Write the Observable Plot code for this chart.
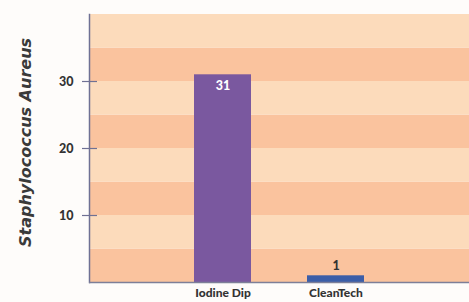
<!DOCTYPE html>
<html>
<head>
<meta charset="utf-8">
<script src="https://cdn.jsdelivr.net/npm/d3@7"></script>
<script src="https://cdn.jsdelivr.net/npm/@observablehq/plot@0.6"></script>
<style>
  html, body { margin: 0; padding: 0; background: #fefcfa; }
  #chart svg { display: block; }
</style>
</head>
<body>
<div id="chart"></div>
<script>
const categories = ["Iodine Dip", "CleanTech"];
const values = [31, 1];
const yTicks = [10, 20, 30];
const stripeStarts = [0, 5, 10, 15, 20, 25, 30, 35];
const yLabel = "Staphylococcus Aureus";

const barColors = ["#7a589f", "#3b5ea8"];
const stripeColors = ["#fac39e", "#fcdbbb"];

const data = categories.map((c, i) => ({category: c, value: values[i], color: barColors[i]}));
const stripes = stripeStarts.map((s, i) => ({y1: s, y2: s + 5, fill: stripeColors[i % 2]}));

const FONT = "Lato, 'Open Sans', sans-serif";

const chart = Plot.plot({
  width: 469,
  height: 302,
  marginLeft: 89,
  marginRight: 0,
  marginTop: 14,
  marginBottom: 20,
  style: {fontFamily: FONT, background: "#fefcfa"},
  x: {domain: categories, range: [136.5, 420], padding: 0.5, label: null},
  y: {domain: [0, 40], label: null},
  marks: [
    Plot.rectY(stripes, {y1: "y1", y2: "y2", fill: "fill"}),
    Plot.barY(data, {x: "category", y: "value", fill: "color"}),
    Plot.frame({anchor: "left", stroke: "#6f7194", strokeWidth: 1.5}),
    Plot.ruleY([0], {stroke: "#7d7f98", strokeWidth: 1.5}),
    Plot.axisY(yTicks, {
      tickSize: 15, dx: 8, tickPadding: 9, stroke: "#6f7194", strokeWidth: 1.2,
      fill: "#333", fontSize: 12.5, fontWeight: "900", label: null
    }),
    Plot.axisX({
      tickSize: 0, tickPadding: 6, fill: "#333", fontSize: 12, fontWeight: "900", label: null
    }),
    Plot.text(data.filter(d => d.value > 5), {
      x: "category", y: "value", text: d => String(d.value),
      dy: 11, fill: "white", fontSize: 12.5, fontWeight: "900"
    }),
    Plot.text(data.filter(d => d.value <= 5), {
      x: "category", y: "value", text: d => String(d.value),
      dy: -10, fill: "#333", fontSize: 12.5, fontWeight: "900"
    }),
    Plot.text([yLabel], {
      frameAnchor: "left", textAnchor: "middle", dx: -64, dy: -6, rotate: -90,
      fill: "#3a3a3a", fontSize: 16, fontWeight: "bold", fontStyle: "italic",
      fontFamily: "'DejaVu Sans', sans-serif"
    })
  ]
});

document.getElementById("chart").appendChild(chart);
</script>
</body>
</html>
